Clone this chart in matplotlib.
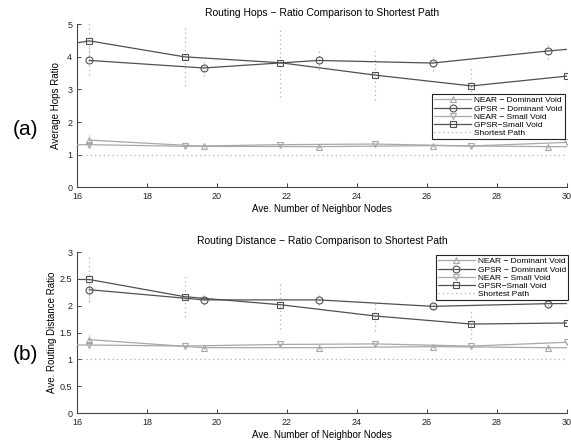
import numpy as np
import matplotlib
matplotlib.use("Agg")
import matplotlib.pyplot as plt

plt.rcParams['font.family'] = ['Liberation Sans', 'DejaVu Sans']

# x positions (Ave. number of neighbor nodes); points just outside 16..30 get clipped
x_dom = [16.35, 19.62, 22.9, 26.16, 29.46, 32.73]
x_small = [13.6, 16.35, 19.07, 21.81, 24.52, 27.27, 30.0]

# (a) routing hops ratio
hops_near_dom = [1.45, 1.26, 1.25, 1.28, 1.25, 1.24]
hops_gpsr_dom = [3.89, 3.66, 3.89, 3.81, 4.18, 4.48]
hops_near_small = [1.31, 1.31, 1.26, 1.31, 1.33, 1.27, 1.38]
hops_gpsr_small = [4.0, 4.49, 4.0, 3.82, 3.44, 3.11, 3.41]
hops_err_gpsr_dom = [0.45, 0.25, 0.3, 0.25, 0.25, 0.0]
hops_err_gpsr_small = [0.0, 0.6, 0.9, 1.05, 0.75, 0.6, 0.35]
hops_err_near_dom = [0.15, 0.05, 0.05, 0.05, 0.05, 0.0]
hops_err_near_small = [0.0, 0.08, 0.05, 0.05, 0.05, 0.05, 0.1]

# (b) routing distance ratio
dist_near_dom = [1.37, 1.22, 1.22, 1.24, 1.22, 1.22]
dist_gpsr_dom = [2.30, 2.11, 2.11, 1.99, 2.04, 2.05]
dist_near_small = [1.27, 1.27, 1.25, 1.28, 1.29, 1.25, 1.32]
dist_gpsr_small = [2.50, 2.49, 2.17, 2.02, 1.81, 1.66, 1.68]
dist_err_gpsr_dom = [0.2, 0.1, 0.1, 0.05, 0.05, 0.0]
dist_err_gpsr_small = [0.0, 0.42, 0.38, 0.45, 0.28, 0.27, 0.3]
dist_err_near_dom = [0.1, 0.03, 0.03, 0.03, 0.03, 0.0]
dist_err_near_small = [0.0, 0.05, 0.03, 0.03, 0.03, 0.03, 0.05]

labels = ["NEAR \u2212 Dominant Void", "GPSR \u2212 Dominant Void",
          "NEAR \u2212 Small Void", "GPSR\u2212Small Void", "Shortest Path"]

DARK = "#505050"
LIGHT = "#a8a8a8"
ERR = "#b0b0b0"


def draw_panel(ax, near_dom, gpsr_dom, near_small, gpsr_small, errs,
               yticks, title, ylabel, ylabel_x, legend_anchor):
    series = [
        (x_dom, near_dom, errs[2], LIGHT, "^"),
        (x_dom, gpsr_dom, errs[0], DARK, "o"),
        (x_small, near_small, errs[3], LIGHT, "v"),
        (x_small, gpsr_small, errs[1], DARK, "s"),
    ]
    # dotted error bars
    for xs, ys, es, _, _ in series:
        eb = ax.errorbar(xs, ys, yerr=es, fmt="none", ecolor=ERR,
                         elinewidth=0.9, capsize=0, zorder=1)
        eb[2][0].set_linestyle((0, (1, 2.5)))
    handles = []
    for (xs, ys, _, col, mk), lab in zip(series, labels):
        h, = ax.plot(xs, ys, color=col, lw=0.9, marker=mk, ms=5,
                     mfc="none", mec=col, mew=0.8, label=lab, zorder=3)
        handles.append(h)
    h, = ax.plot([16, 30], [1, 1], color=ERR, lw=0.9,
                 linestyle=(0, (1, 2.5)), label=labels[4], zorder=2)
    handles.append(h)

    ax.set_xlim(16, 30)
    ax.set_ylim(yticks[0], yticks[-1])
    ax.set_xticks(range(16, 31, 2))
    ax.set_yticks(yticks)
    ax.set_yticklabels([("%g" % t) for t in yticks])
    ax.tick_params(direction="in", length=3, labelsize=6.5, colors="#222222",
                   width=0.6)
    for s in ["top", "right"]:
        ax.spines[s].set_visible(False)
    for s in ["left", "bottom"]:
        ax.spines[s].set_color("#444444")
        ax.spines[s].set_linewidth(0.8)
    ax.set_title(title, fontsize=7.5, pad=6)
    ax.set_xlabel("Ave. Number of Neighbor Nodes", fontsize=7, labelpad=2)
    ax.set_ylabel(ylabel, fontsize=7)
    ax.yaxis.set_label_coords(ylabel_x, 0.5)
    leg = ax.legend(handles=handles, loc="upper right", bbox_to_anchor=legend_anchor,
                    fontsize=6, handlelength=4.4, handletextpad=0.4,
                    labelspacing=0.05, borderpad=0.25, borderaxespad=0,
                    fancybox=False, framealpha=1)
    leg.get_frame().set_edgecolor("#222222")
    leg.get_frame().set_linewidth(0.8)


fig = plt.figure(figsize=(5.71, 4.4), dpi=100)
ax1 = fig.add_axes([0.135, 0.574, 0.858, 0.371])
ax2 = fig.add_axes([0.135, 0.061, 0.858, 0.366])

draw_panel(ax1, hops_near_dom, hops_gpsr_dom, hops_near_small, hops_gpsr_small,
           [hops_err_gpsr_dom, hops_err_gpsr_small, hops_err_near_dom, hops_err_near_small],
           [0, 1, 2, 3, 4, 5], "Routing Hops \u2212 Ratio Comparison to Shortest Path",
           "Average Hops Ratio", -0.032, (0.995, 0.57))
draw_panel(ax2, dist_near_dom, dist_gpsr_dom, dist_near_small, dist_gpsr_small,
           [dist_err_gpsr_dom, dist_err_gpsr_small, dist_err_near_dom, dist_err_near_small],
           [0, 0.5, 1, 1.5, 2, 2.5, 3], "Routing Distance \u2212 Ratio Comparison to Shortest Path",
           "Ave. Routing Distance Ratio", -0.04, (1.003, 0.98))

fig.text(0.044, 0.705, "(a)", fontsize=15, ha="center", va="center")
fig.text(0.044, 0.195, "(b)", fontsize=15, ha="center", va="center")

fig.savefig("out.png", dpi=100)
